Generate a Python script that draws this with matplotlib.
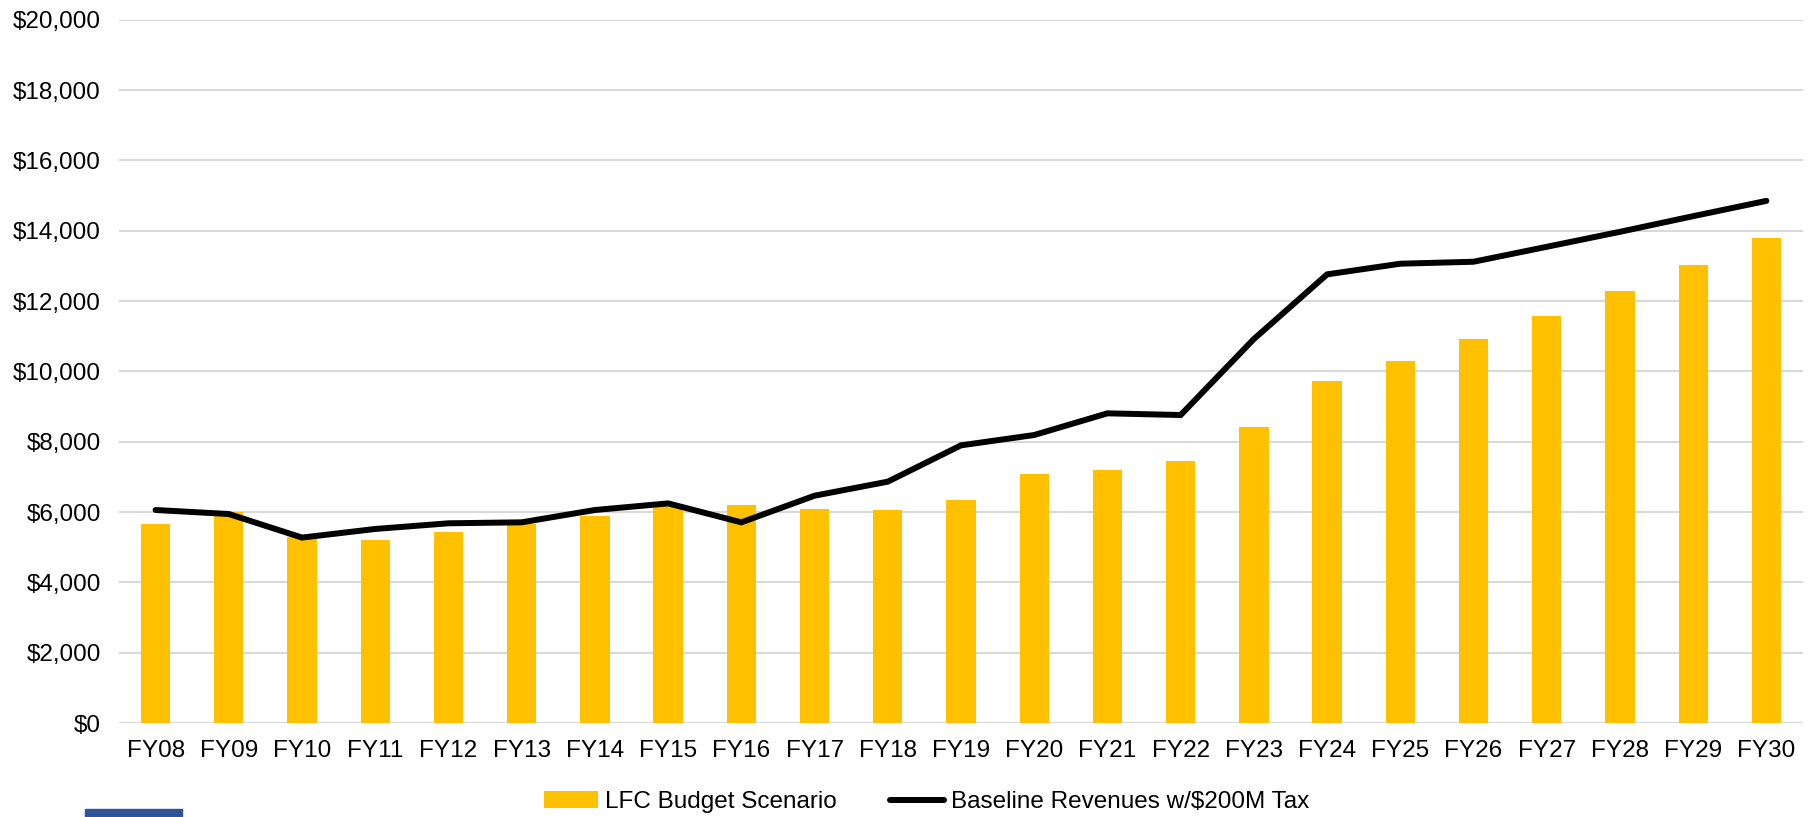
import matplotlib.pyplot as plt
import numpy as np
from matplotlib.patches import Rectangle
from matplotlib.ticker import FuncFormatter

plt.matplotlib.use('Agg')
plt.rcParams['font.family'] = ['Liberation Sans', 'DejaVu Sans']

years    = ['FY08', 'FY09', 'FY10', 'FY11', 'FY12', 'FY13', 'FY14', 'FY15',
            'FY16', 'FY17', 'FY18', 'FY19', 'FY20', 'FY21', 'FY22', 'FY23',
            'FY24', 'FY25', 'FY26', 'FY27', 'FY28', 'FY29', 'FY30']
lfc      = [5670, 6010, 5280, 5207, 5424, 5650, 5877, 6170,
            6199, 6085, 6057, 6332, 7081, 7204, 7441, 8417,
            9725, 10294, 10919, 11572, 12273, 13011, 13788]
baseline = [6057, 5943, 5273, 5518, 5679, 5707, 6057, 6245,
            5706, 6464, 6863, 7896, 8190, 8806, 8758, 10919,
            12758, 13061, 13117, 13542, 13968, 14413, 14848]
yticks   = np.arange(0, 20001, 2000)

fig = plt.figure(figsize=(18.2, 8.17), dpi=100, facecolor='w')
ax = fig.add_axes([119/1820, 1 - 723/817, (1803 - 119)/1820, (723 - 19.7)/817])

x = np.arange(len(years))
bars = ax.bar(x, lfc, width=0.4, color='#FFC000', label='LFC Budget Scenario', zorder=2)
line, = ax.plot(x, baseline, color='black', lw=4.3, solid_capstyle='round',
                solid_joinstyle='miter', label='Baseline Revenues w/$200M Tax', zorder=3)

ax.set_xlim(-0.5, len(years) - 0.5)
ax.set_ylim(0, 20000)
ax.set_yticks(yticks)
ax.yaxis.set_major_formatter(FuncFormatter(lambda v, p: '${:,.0f}'.format(v)))
ax.set_xticks(x)
ax.set_xticklabels(years)
ax.tick_params(axis='both', length=0, labelsize=17.5, colors='black')
ax.tick_params(axis='y', pad=13)
ax.tick_params(axis='x', pad=12)
ax.grid(axis='y', color='#D9D9D9', lw=1.5, zorder=0)
ax.set_axisbelow(True)
for s in ax.spines.values():
    s.set_visible(False)

fig.legend(handles=[bars, line], loc='center', bbox_to_anchor=(927/1820, 1 - 802/817),
           ncol=2, frameon=False, fontsize=17.5, handlelength=2.2, handletextpad=0.3,
           columnspacing=2.2)

# blue strip at lower left corner
fig.patches.append(Rectangle((85/1820, 0), 97/1820, 8/817, transform=fig.transFigure,
                             color='#2F5597', zorder=5))

plt.savefig('out.png', dpi=100, facecolor='w')
plt.close()
